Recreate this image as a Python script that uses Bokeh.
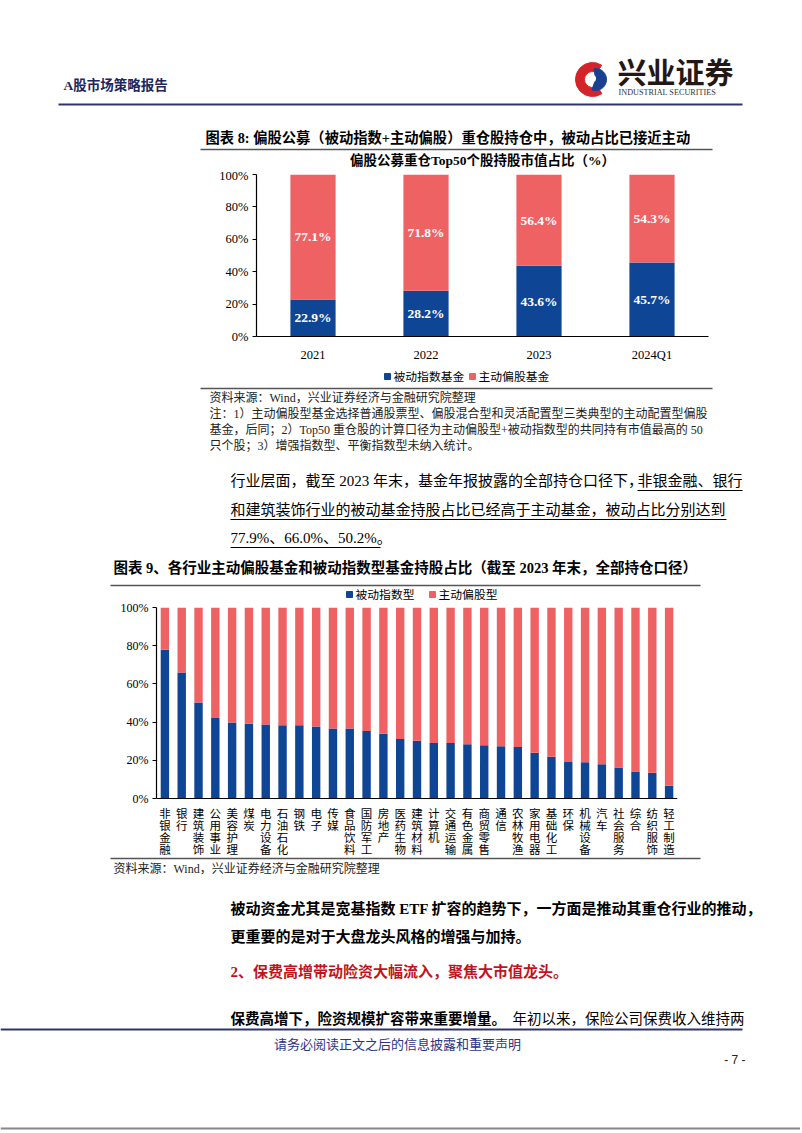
from bokeh.plotting import figure
from bokeh.layouts import column, row
from bokeh.models import Range1d, FactorRange, FixedTicker, PrintfTickFormatter, ColumnDataSource, Span
from bokeh.core.properties import value
from bokeh.embed import file_html
from bokeh.resources import INLINE

# ---------------- data ----------------
years = ["2021", "2022", "2023", "2024Q1"]
passive_top50 = [22.9, 28.2, 43.6, 45.7]
active_top50 = [77.1, 71.8, 56.4, 54.3]

industries = ["非银金融", "银行", "建筑装饰", "公用事业", "美容护理", "煤炭", "电力设备",
              "石油石化", "钢铁", "电子", "传媒", "食品饮料", "国防军工", "房地产", "医药生物",
              "建筑材料", "计算机", "交通运输", "有色金属", "商贸零售", "通信", "农林牧渔",
              "家用电器", "基础化工", "环保", "机械设备", "汽车", "社会服务", "综合",
              "纺织服饰", "轻工制造"]
passive_ind = [77.9, 66.0, 50.2, 42.1, 39.8, 39.1, 38.8, 38.4, 38.3, 37.7, 36.7, 36.6, 35.3,
               33.9, 31.2, 30.2, 29.0, 29.0, 28.4, 27.9, 27.4, 26.9, 23.9, 21.9, 19.1, 19.0,
               17.9, 16.2, 14.1, 13.5, 6.7]
active_ind = [22.1, 34.0, 49.8, 57.9, 60.2, 60.9, 61.2, 61.6, 61.7, 62.3, 63.3, 63.4, 64.7,
              66.1, 68.8, 69.8, 71.0, 71.0, 71.6, 72.1, 72.6, 73.1, 76.1, 78.1, 80.9, 81.0,
              82.1, 83.8, 85.9, 86.5, 93.3]
pct_ticks = [0, 20, 40, 60, 80, 100]

# ---------------- style ----------------
BLUE = "#0f4595"
RED = "#ef6264"
NAVY = "#2e3470"
FONT = "'Liberation Serif', 'Noto Sans CJK SC', serif"
LATIN = "'Liberation Serif', serif"
CJK = "'Noto Sans CJK SC', sans-serif"
W = 800
X0 = 0


def canvas(top, bottom):
    f = figure(width=W, height=bottom - top, x_range=Range1d(X0, X0 + W),
               y_range=Range1d(bottom, top), output_backend="svg", toolbar_location=None,
               x_axis_location=None, y_axis_location=None,
               min_border=0, min_border_left=0, min_border_right=0,
               min_border_top=0, min_border_bottom=0)
    f.grid.visible = False
    f.outline_line_color = None
    f.background_fill_color = "white"
    f.border_fill_color = "white"
    return f


def txt(f, x, y, s, size, bold=False, color="#000000", align="left", font=FONT):
    f.text(x=[x], y=[y], text=[s], text_font=value(font), text_font_size=f"{size}px",
           text_font_style="bold" if bold else "normal", text_color=color,
           text_align=align, text_baseline="middle")


def hline(f, x0, x1, y, color="#555555", w=1.2):
    f.segment(x0=[x0], y0=[y], x1=[x1], y1=[y], line_color=color, line_width=w)


def style_chart(p, label_size):
    p.xgrid.visible = False
    p.ygrid.visible = False
    p.outline_line_color = None
    p.background_fill_color = "white"
    p.border_fill_color = "white"
    p.yaxis.ticker = FixedTicker(ticks=pct_ticks)
    p.yaxis.formatter = PrintfTickFormatter(format="%d%%")
    p.yaxis.bounds = (0, 100)
    p.yaxis.major_tick_in = 0
    p.yaxis.major_tick_out = 4
    p.yaxis.minor_tick_line_color = None
    p.axis.axis_line_color = "#000000"
    p.axis.axis_line_width = 1.2
    p.yaxis.major_tick_line_color = "#000000"
    p.yaxis.major_label_text_font = LATIN
    p.yaxis.major_label_text_font_size = label_size
    p.yaxis.major_label_text_color = "#000000"
    p.yaxis.major_label_standoff = 4


# ---------------- header block (page y 0..168) ----------------
c1 = canvas(0, 168)
txt(c1, 63, 85, "A股市场策略报告", 13.5, bold=True, color="#20265a")
# logo
c1.annular_wedge(x=[592], y=[79], inner_radius=8, outer_radius=17,
                 start_angle=1.0, end_angle=5.3, color="#d4242a")
c1.wedge(x=[595], y=[79], radius=11, start_angle=-1.9, end_angle=1.7, color="#1d3f8f")
c1.scatter(x=[592], y=[78], size=7, color="white", line_color=None)
txt(c1, 617, 70, "兴业证券", 29, bold=True, color="#231815", font=CJK)
txt(c1, 618, 92, "INDUSTRIAL SECURITIES", 8.2, color="#333333", font=LATIN)
hline(c1, 58, 742, 104, color=NAVY, w=2)
txt(c1, 205, 137, "图表 8: 偏股公募（被动指数+主动偏股）重仓股持仓中，被动占比已接近主动", 14.3, bold=True)
hline(c1, 200, 712, 149, color="#555555", w=1.5)
txt(c1, 482, 160, "偏股公募重仓Top50个股持股市值占比（%）", 13.5, bold=True, align="center")

# ---------------- chart 8 (page y 168..366) ----------------
src8 = ColumnDataSource(dict(
    year=years, passive=passive_top50, active=active_top50,
    pmid=[v / 2 for v in passive_top50],
    amid=[p + a / 2 for p, a in zip(passive_top50, active_top50)],
    plbl=[f"{v:.1f}%" for v in passive_top50],
    albl=[f"{v:.1f}%" for v in active_top50],
))
p8 = figure(width=W, height=198, x_range=FactorRange(*years), y_range=Range1d(0, 100),
            output_backend="svg", toolbar_location=None,
            min_border_left=256, min_border_right=W - 256 - 452, min_border_top=6,
            min_border_bottom=30)
p8.vbar_stack(["passive", "active"], x="year", width=0.4, fill_color=[BLUE, RED],
              line_color=None, source=src8)
p8.text(x="year", y="pmid", text="plbl", source=src8, text_color="white",
        text_font=value(LATIN), text_font_size="13.5px", text_font_style="bold",
        text_align="center", text_baseline="middle")
p8.text(x="year", y="amid", text="albl", source=src8, text_color="white",
        text_font=value(LATIN), text_font_size="13.5px", text_font_style="bold",
        text_align="center", text_baseline="middle")
style_chart(p8, "12.5px")
p8.xaxis.major_tick_line_color = None
p8.xaxis.minor_tick_line_color = None
p8.xaxis.major_label_text_color = "#000000"
p8.xaxis.major_label_text_font = LATIN
p8.xaxis.major_label_text_font_size = "12.5px"
p8.xaxis.major_label_standoff = 5

# ---------------- middle block (page y 366..600) ----------------
c2 = canvas(366, 600)
c2.scatter(x=[387], y=[376], marker="square", size=6, color=BLUE)
txt(c2, 393, 376, "被动指数基金", 11.8)
c2.scatter(x=[472], y=[376], marker="square", size=6, color=RED)
txt(c2, 478, 376, "主动偏股基金", 11.8)
hline(c2, 200, 712, 388, color="#555555", w=1.5)
txt(c2, 209, 397, "资料来源：Wind，兴业证券经济与金融研究院整理", 12, color="#222222")
txt(c2, 209, 413, "注：1）主动偏股型基金选择普通股票型、偏股混合型和灵活配置型三类典型的主动配置型偏股", 12, color="#222222")
txt(c2, 209, 429, "基金，后同；2）Top50 重仓股的计算口径为主动偏股型+被动指数型的共同持有市值最高的 50", 12, color="#222222")
txt(c2, 209, 445, "只个股；3）增强指数型、平衡指数型未纳入统计。", 12, color="#222222")
txt(c2, 230, 480, "行业层面，截至 2023 年末，基金年报披露的全部持仓口径下，", 15)
txt(c2, 742, 480, "非银金融、银行", 15, align="right")
hline(c2, 637, 742, 490, color="#000000", w=1)
txt(c2, 230, 509, "和建筑装饰行业的被动基金持股占比已经高于主动基金，被动占比分别达到", 15)
hline(c2, 230, 726, 519, color="#000000", w=1)
txt(c2, 230, 537, "77.9%、66.0%、50.2%。", 15)
hline(c2, 230, 380, 547, color="#000000", w=1)
txt(c2, 113, 567, "图表 9、各行业主动偏股基金和被动指数型基金持股占比（截至 2023 年末，全部持仓口径）", 14.5, bold=True)
hline(c2, 110, 700, 585, color="#555555", w=1.5)
c2.scatter(x=[349], y=[594], marker="square", size=6, color=BLUE)
txt(c2, 355, 594, "被动指数型", 11.8)
c2.scatter(x=[432], y=[594], marker="square", size=6, color=RED)
txt(c2, 438, 594, "主动偏股型", 11.8)

# ---------------- chart 9 (page y 600..856) ----------------
# frame runs from page y 607 (100%) to 856; 0% sits at page y 798
PX_PER_UNIT = (798 - 607) / 100.0
Y_LOW = -(856 - 798) / PX_PER_UNIT
MAXLEN = max(len(n) for n in industries)
chars = {f"c{i}": [n[i] if i < len(n) else "" for n in industries] for i in range(MAXLEN)}
src9 = ColumnDataSource(dict(ind=industries, passive=passive_ind, active=active_ind, **chars))
p9 = figure(width=W, height=256, x_range=FactorRange(*industries), y_range=Range1d(Y_LOW, 100),
            output_backend="svg", toolbar_location=None, x_axis_location=None,
            min_border_left=156, min_border_right=W - 156 - 521, min_border_top=7,
            min_border_bottom=0)
p9.vbar_stack(["passive", "active"], x="ind", width=0.5, fill_color=[BLUE, RED],
              line_color=None, source=src9)
p9.add_layout(Span(location=0, dimension="width", line_color="#000000", line_width=1.2))
# category labels written vertically, one character per line (12px pitch)
for i in range(MAXLEN):
    p9.text(x="ind", y=value(-(14 + 12 * i) / PX_PER_UNIT), text=f"c{i}", source=src9,
            text_font=value(CJK), text_font_size="11.5px", text_color="#000000",
            text_align="center", text_baseline="middle")
style_chart(p9, "12px")

# ---------------- bottom block (page y 856..1131) ----------------
c3 = canvas(856, 1131)
hline(c3, 110, 700, 858, color="#555555", w=1.5)
txt(c3, 113, 868, "资料来源：Wind，兴业证券经济与金融研究院整理", 12, color="#222222")
txt(c3, 230, 908, "被动资金尤其是宽基指数 ETF 扩容的趋势下，一方面是推动其重仓行业的推动，", 15, bold=True)
txt(c3, 230, 936, "更重要的是对于大盘龙头风格的增强与加持。", 15, bold=True)
txt(c3, 230, 971, "2、保费高增带动险资大幅流入，聚焦大市值龙头。", 15, bold=True, color="#c0141c")
txt(c3, 230, 1018, "保费高增下，险资规模扩容带来重要增量。", 14.5, bold=True)
txt(c3, 744, 1018, "年初以来，保险公司保费收入维持两", 14.5, align="right")
hline(c3, 0, 742, 1029, color=NAVY, w=2)
txt(c3, 397, 1043, "请务必阅读正文之后的信息披露和重要声明", 13, color="#2b3585", align="center", font=CJK)
txt(c3, 745, 1059, "- 7 -", 12, color="#222222", align="right", font="'Liberation Sans', sans-serif")
hline(c3, 0, 800, 1128, color="#888888", w=2)

layout = column(row(c1), row(p8), row(c2), row(p9), row(c3), spacing=0)
open("out.html", "w").write(file_html(layout, INLINE))
